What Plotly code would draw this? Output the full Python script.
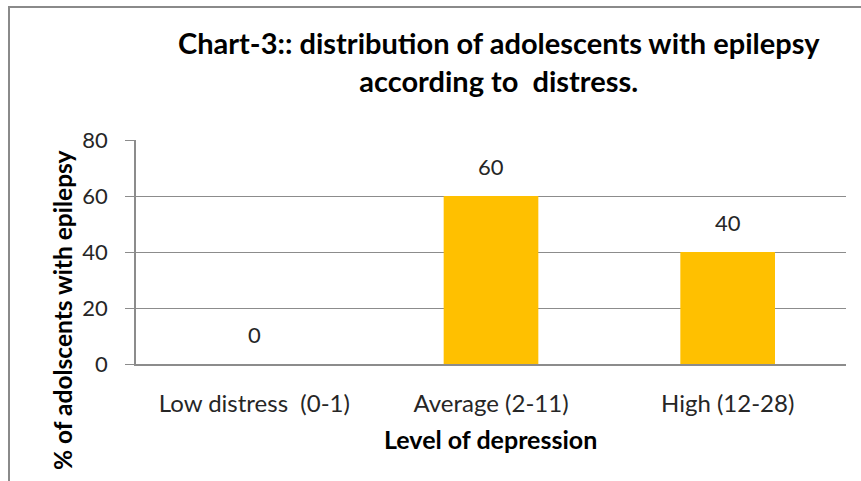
import plotly.graph_objects as go

# Chart data
categories = ["Low distress  (0-1)", "Average (2-11)", "High (12-28)"]
percent_values = [0, 60, 40]
y_ticks = [0, 20, 40, 60, 80]

FONT = "Lato"
W, H = 861, 481
L, R, T, B = 136, 15, 140, 117
pw, ph = W - L - R, H - T - B


def px_x(x):
    return (x - L) / pw


def px_y(y):
    return (H - B - y) / ph


fig = go.Figure()
fig.add_trace(go.Bar(
    x=categories,
    y=percent_values,
    marker=dict(color="#FFC000", line=dict(width=0)),
    width=0.4,
    hoverinfo="skip",
))

# value labels above each bar
for c, v in zip(categories, percent_values):
    fig.add_annotation(x=c, y=v, text=str(v), showarrow=False,
                       yanchor="bottom", yshift=14,
                       font=dict(family=FONT, size=22, color="#262626"))

fig.update_layout(
    width=W, height=H,
    margin=dict(l=L, r=R, t=T, b=B, autoexpand=False),
    paper_bgcolor="white", plot_bgcolor="white",
    showlegend=False,
    font=dict(family=FONT, color="#262626"),
    xaxis=dict(
        type="category",
        showline=True, linecolor="#8c8c8c", linewidth=1.5,
        showgrid=False, ticks="",
        tickfont=dict(family=FONT, size=24, color="#262626"),
        ticklabelstandoff=17,
        fixedrange=True,
    ),
    yaxis=dict(
        range=[0, 80], tickvals=y_ticks,
        showline=True, linecolor="#8c8c8c", linewidth=1.5,
        showgrid=True, gridcolor="#8c8c8c", gridwidth=1.2,
        ticks="outside", ticklen=9, tickcolor="#8c8c8c", tickwidth=1.2,
        tickfont=dict(family=FONT, size=22, color="#262626"),
        ticklabelstandoff=13,
        zeroline=False,
        fixedrange=True,
    ),
)

# chart title
fig.add_annotation(
    xref="paper", yref="paper", x=px_x(499), y=px_y(62),
    text="<b>Chart-3:: distribution of adolescents with epilepsy<br>according to  distress.</b>",
    showarrow=False, align="center", xanchor="center", yanchor="middle",
    font=dict(family=FONT, size=29, color="black"),
)

# axis titles
fig.add_annotation(
    xref="paper", yref="paper", x=px_x(490), y=px_y(439),
    text="<b>Level of depression</b>", showarrow=False,
    xanchor="center", yanchor="middle",
    font=dict(family=FONT, size=25, color="black"),
)
fig.add_annotation(
    xref="paper", yref="paper", x=px_x(62), y=px_y(310),
    text="<b>% of adolscents with epilepsy</b>", showarrow=False,
    textangle=-90, xanchor="center", yanchor="middle",
    font=dict(family=FONT, size=24.5, color="black"),
)

# outer frame of the chart
fig.add_shape(
    type="rect", xref="paper", yref="paper",
    x0=px_x(9), x1=px_x(866), y0=px_y(490), y1=px_y(7),
    line=dict(color="#8a8a8a", width=2), fillcolor="rgba(0,0,0,0)",
    layer="below",
)

fig.write_html("out.html")
